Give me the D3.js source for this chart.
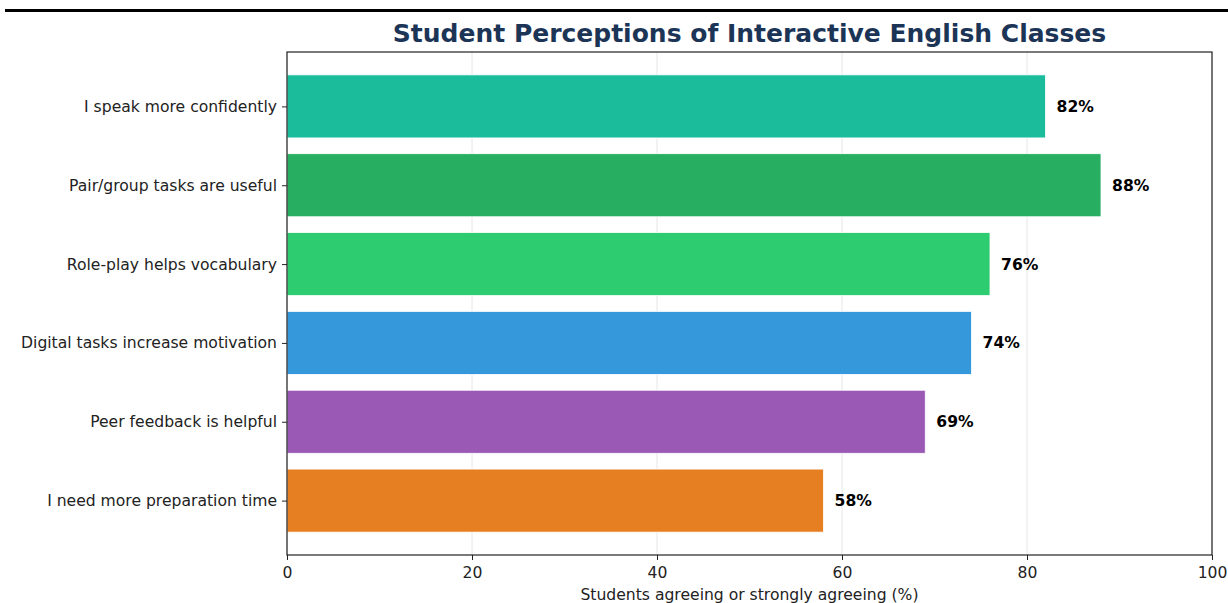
<!DOCTYPE html>
<html>
<head>
<meta charset="utf-8">
<script src="https://cdn.jsdelivr.net/npm/d3@7"></script>
<style>
  body { margin: 0; background: #fff; }
  svg { display: block; font-family: "DejaVu Sans", sans-serif; }
</style>
</head>
<body>
<svg id="canvas" width="1228" height="603"></svg>
<script>
const statements = [
  'I speak more confidently',
  'Pair/group tasks are useful',
  'Role-play helps vocabulary',
  'Digital tasks increase motivation',
  'Peer feedback is helpful',
  'I need more preparation time'
];
const agreePct = [82, 88, 76, 74, 69, 58];
const barColors = ['#1abc9c', '#27ae60', '#2ecc71', '#3498db', '#9b59b6', '#e67e22'];
const xTicks = [0, 20, 40, 60, 80, 100];

const svg = d3.select('#canvas');
const plotLeft = 287, plotRight = 1212, plotTop = 52, plotBottom = 555;

// top rule
svg.append('rect').attr('x', 5).attr('y', 9).attr('width', 1223).attr('height', 3).attr('fill', '#000');

const x = d3.scaleLinear().domain([0, 100]).range([plotLeft, plotRight]);
const y = d3.scaleLinear().domain([-0.69, statements.length - 1 + 0.69]).range([plotTop, plotBottom]);
const barH = y(0.4) - y(-0.4);

// grid
svg.append('g')
  .selectAll('line')
  .data(xTicks)
  .enter()
  .append('line')
  .attr('x1', d => x(d)).attr('x2', d => x(d))
  .attr('y1', plotTop).attr('y2', plotBottom)
  .attr('stroke', '#e6e6e6')
  .attr('stroke-width', 1);

// bars
svg.append('g')
  .selectAll('rect')
  .data(agreePct)
  .enter()
  .append('rect')
  .attr('x', x(0))
  .attr('y', (d, i) => y(i) - barH / 2)
  .attr('width', d => x(d) - x(0))
  .attr('height', barH)
  .attr('fill', (d, i) => barColors[i])
  .attr('stroke', '#fff')
  .attr('stroke-width', 0.8);

// value labels
svg.append('g')
  .selectAll('text')
  .data(agreePct)
  .enter()
  .append('text')
  .attr('x', d => x(d + 1.2))
  .attr('y', (d, i) => y(i))
  .attr('dy', '0.35em')
  .attr('font-size', 15.6)
  .attr('font-weight', 'bold')
  .attr('fill', '#000')
  .text(d => d + '%');

// axes
const xAxis = d3.axisBottom(x).tickValues(xTicks).tickSize(5).tickPadding(7);
const gx = svg.append('g').attr('transform', `translate(0,${plotBottom})`).call(xAxis);
gx.select('.domain').remove();
gx.selectAll('text').attr('font-size', 15.6).attr('fill', '#222').attr('font-family', '"DejaVu Sans", sans-serif');
gx.selectAll('line').attr('stroke', '#222');

const yAxis = d3.axisLeft(y).tickValues(d3.range(statements.length)).tickFormat(i => statements[i]).tickSize(5).tickPadding(5);
const gy = svg.append('g').attr('transform', `translate(${plotLeft},0)`).call(yAxis);
gy.select('.domain').remove();
gy.selectAll('text').attr('font-size', 15.6).attr('fill', '#222').attr('font-family', '"DejaVu Sans", sans-serif');
gy.selectAll('line').attr('stroke', '#222');

// frame
svg.append('rect')
  .attr('x', plotLeft).attr('y', plotTop)
  .attr('width', plotRight - plotLeft).attr('height', plotBottom - plotTop)
  .attr('fill', 'none').attr('stroke', '#222').attr('stroke-width', 1.2);

// title
svg.append('text')
  .attr('x', (plotLeft + plotRight) / 2).attr('y', 42)
  .attr('text-anchor', 'middle')
  .attr('font-size', 25)
  .attr('font-weight', 'bold')
  .attr('fill', '#1c3557')
  .text('Student Perceptions of Interactive English Classes');

svg.append('text')
  .attr('x', (plotLeft + plotRight) / 2).attr('y', 600)
  .attr('text-anchor', 'middle')
  .attr('font-size', 15.6)
  .attr('fill', '#222')
  .text('Students agreeing or strongly agreeing (%)');
</script>
</body>
</html>
